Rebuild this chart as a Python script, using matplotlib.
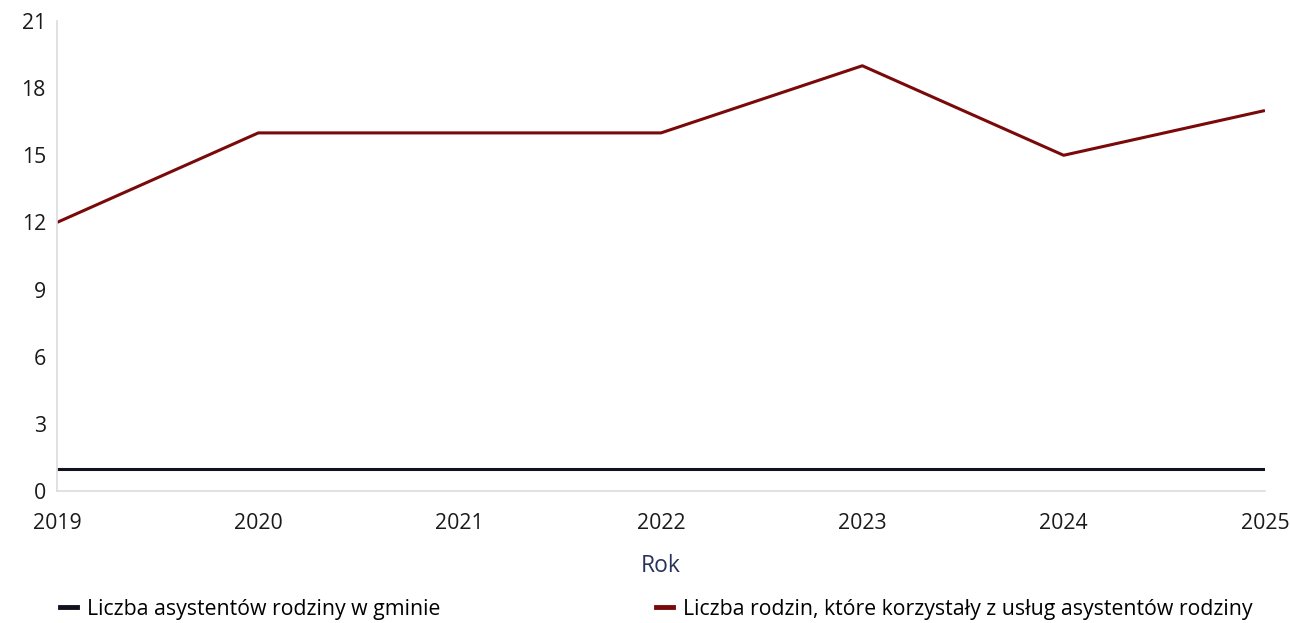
import matplotlib.pyplot as plt
from matplotlib.lines import Line2D

plt.rcParams['font.family'] = ['Open Sans', 'DejaVu Sans']

years = [2019, 2020, 2021, 2022, 2023, 2024, 2025]
asystenci = [1, 1, 1, 1, 1, 1, 1]
rodziny = [12, 16, 16, 16, 19, 15, 17]

label_asyst = 'Liczba asystentów rodziny w gminie'
label_rodz = 'Liczba rodzin, które korzystały z usług asystentów rodziny'

col_asyst = '#10121f'
col_rodz = '#7a0a0a'

fig = plt.figure(figsize=(12.9, 6.23), dpi=100)
ax = fig.add_axes([0.0442, 0.2119, 0.9364, 0.7544])

ax.plot(years, asystenci, color=col_asyst, lw=2.2, solid_capstyle='butt')
ax.plot(years, rodziny, color=col_rodz, lw=2.2, solid_capstyle='butt')

ax.set_xlim(2019, 2025)
ax.set_ylim(0, 21)
ax.set_yticks(range(0, 22, 3))
ax.set_xticks(years)
ax.tick_params(axis='both', length=0, labelsize=15.3, colors='#1a1a1a')
ax.tick_params(axis='y', pad=8)
ax.tick_params(axis='x', pad=16)

for s in ['top', 'right']:
    ax.spines[s].set_visible(False)
for s in ['left', 'bottom']:
    ax.spines[s].set_color('#dcdcdc')
    ax.spines[s].set_linewidth(1.2)

ax.set_xlabel('Rok', fontsize=16.5, color='#27335a', labelpad=14)

h1 = [Line2D([], [], color=col_asyst, lw=3.5)]
h2 = [Line2D([], [], color=col_rodz, lw=3.5)]
fig.legend(h1, [label_asyst], loc='center left', bbox_to_anchor=(0.032, 0.022),
           frameon=False, fontsize=15.3, handlelength=0.8, handletextpad=0.45)
fig.legend(h2, [label_rodz], loc='center left', bbox_to_anchor=(0.494, 0.022),
           frameon=False, fontsize=15.3, handlelength=0.8, handletextpad=0.45)

fig.savefig('out.png', dpi=100)
